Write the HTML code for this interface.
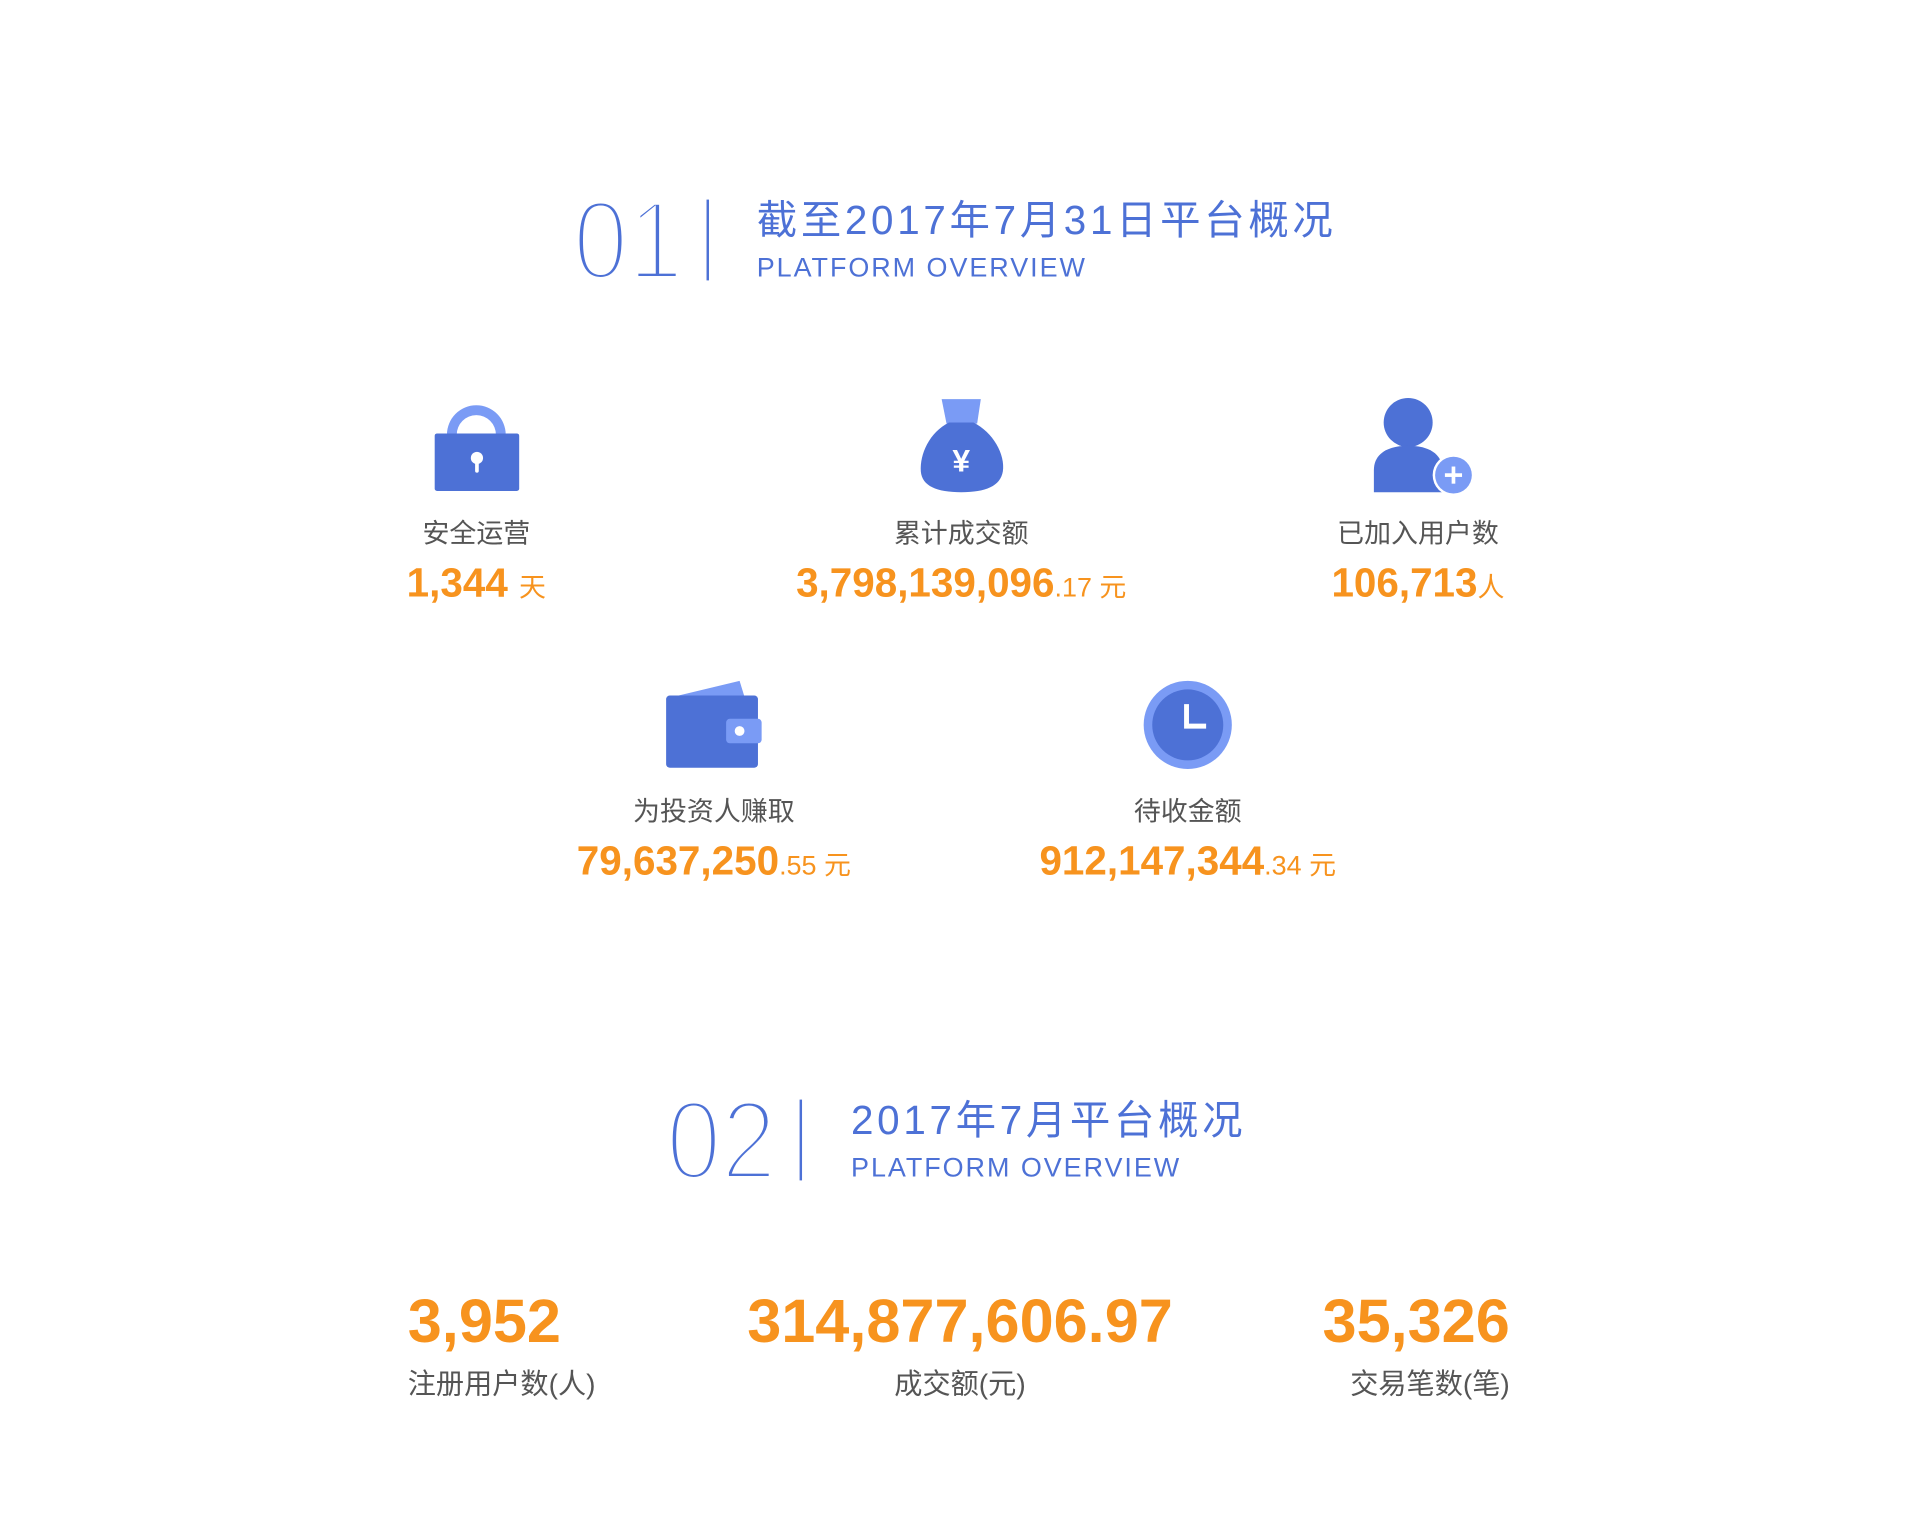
<!DOCTYPE html>
<html><head><meta charset="utf-8">
<style>
html,body{margin:0;padding:0;background:#fff;}
body{width:1920px;height:1538px;overflow:hidden;position:relative;}
#wrap{position:absolute;left:0;top:0;width:1568px;height:1256px;transform:scale(1.22449);transform-origin:0 0;font-family:"Liberation Sans","Noto Sans CJK SC",sans-serif;}
.a{position:absolute;white-space:nowrap;}
.bigsvg{position:absolute;overflow:visible;}
.vline{position:absolute;width:2px;background:#4d71d6;}
.title{color:#4d71d6;font-size:33px;line-height:1;letter-spacing:3px;}
.sub{color:#4d71d6;font-size:22px;line-height:1;letter-spacing:1.6px;}
.lbl{color:#555;font-size:22px;line-height:1;transform:translateX(-50%);}
.val{color:#f7931e;font-size:33px;font-weight:bold;line-height:1;transform:translateX(-50%);}
.val small{font-size:22px;font-weight:normal;}
.icon{position:absolute;}
.stat{color:#f7931e;font-size:50px;font-weight:bold;line-height:1;}
.slbl{color:#555;font-size:23px;line-height:1;}
</style></head><body>
<div id="wrap">
<svg class="bigsvg" style="left:468px;top:150px" width="100" height="90">
<text x="0" y="78" font-size="92" fill="#4d71d6" stroke="#fff" stroke-width="5" font-family="Liberation Sans,sans-serif" transform="scale(0.88,1)">01</text></svg>
<div class="vline" style="left:577px;top:163px;height:66px"></div>
<div class="a title" style="left:618px;top:163px">截至2017年7月31日平台概况</div>
<div class="a sub" style="left:618px;top:208px">PLATFORM OVERVIEW</div>

<svg class="icon" style="left:350px;top:325px" width="80" height="80">
<path d="M15 30 A24 24 0 0 1 63 30 L63 32 L55 32 L55 30 A16 16 0 0 0 23 30 L23 32 L15 32Z" fill="#7a9bf5"/>
<rect x="5" y="29" width="69" height="47" rx="2" fill="#4d71d6"/>
<circle cx="39.5" cy="49" r="5" fill="#fff"/><rect x="38" y="50" width="3" height="11" rx="1.5" fill="#fff"/>
</svg>
<div class="a lbl" style="left:389px;top:425px">安全运营</div>
<div class="a val" style="left:389px;top:459px">1,344 <small>天</small></div>

<svg class="icon" style="left:745px;top:323px" width="80" height="82">
<path d="M24 3 L56 3 L53 23 L28 23Z" fill="#7a9bf5"/>
<path d="M30 22 L50 22 C66 30 76 48 74 62 C72 74 60 79 40 79 C20 79 8 74 7 62 C6 48 14 30 30 22Z" fill="#4d71d6"/>
<text x="40" y="62" text-anchor="middle" font-size="26" font-weight="bold" fill="#fff" font-family="Liberation Sans,sans-serif">¥</text>
</svg>
<div class="a lbl" style="left:785px;top:425px">累计成交额</div>
<div class="a val" style="left:785px;top:459px">3,798,139,096<small>.17 元</small></div>

<svg class="icon" style="left:1118px;top:322px" width="90" height="84">
<circle cx="32" cy="23" r="20" fill="#4d71d6"/>
<path d="M4 80 L4 62 C4 48 16 42 32 42 C48 42 60 48 60 62 L60 80Z" fill="#4d71d6"/>
<circle cx="69" cy="66" r="17" fill="#fff"/>
<circle cx="69" cy="66" r="15" fill="#7a9bf5"/>
<rect x="62" y="64.5" width="14" height="3" fill="#fff"/><rect x="67.5" y="59" width="3" height="14" fill="#fff"/>
</svg>
<div class="a lbl" style="left:1158px;top:425px">已加入用户数</div>
<div class="a val" style="left:1158px;top:459px">106,713<small>人</small></div>

<svg class="icon" style="left:542px;top:554px" width="84" height="76">
<path d="M8 15 L62 2 L66 15Z" fill="#7a9bf5"/>
<rect x="2" y="14" width="75" height="59" rx="3" fill="#4d71d6"/>
<rect x="51" y="33" width="29" height="20" rx="3" fill="#7a9bf5"/>
<circle cx="62" cy="43" r="4" fill="#fff"/>
</svg>
<div class="a lbl" style="left:583px;top:652px">为投资人赚取</div>
<div class="a val" style="left:583px;top:686px">79,637,250<small>.55 元</small></div>

<svg class="icon" style="left:931px;top:553px" width="80" height="80">
<circle cx="39" cy="39" r="36" fill="#7a9bf5"/>
<circle cx="39" cy="39" r="29" fill="#4d71d6"/>
<path d="M38 22 L38 40 L54 40" stroke="#fff" stroke-width="4" fill="none"/>
</svg>
<div class="a lbl" style="left:970px;top:652px">待收金额</div>
<div class="a val" style="left:970px;top:686px">912,147,344<small>.34 元</small></div>

<svg class="bigsvg" style="left:544px;top:885px" width="100" height="90">
<text x="0" y="78" font-size="92" fill="#4d71d6" stroke="#fff" stroke-width="5" font-family="Liberation Sans,sans-serif" transform="scale(0.88,1)">02</text></svg>
<div class="vline" style="left:653px;top:898px;height:66px"></div>
<div class="a title" style="left:695px;top:898px">2017年7月平台概况</div>
<div class="a sub" style="left:695px;top:943px">PLATFORM OVERVIEW</div>

<div class="a stat" style="left:333px;top:1054px">3,952</div>
<div class="a slbl" style="left:333px;top:1119px">注册用户数(人)</div>
<div class="a stat" style="left:784px;top:1054px;transform:translateX(-50%)">314,877,606.97</div>
<div class="a slbl" style="left:784px;top:1119px;transform:translateX(-50%)">成交额(元)</div>
<div class="a stat" style="right:335px;top:1054px">35,326</div>
<div class="a slbl" style="right:335px;top:1119px">交易笔数(笔)</div>
</div>
</body></html>
